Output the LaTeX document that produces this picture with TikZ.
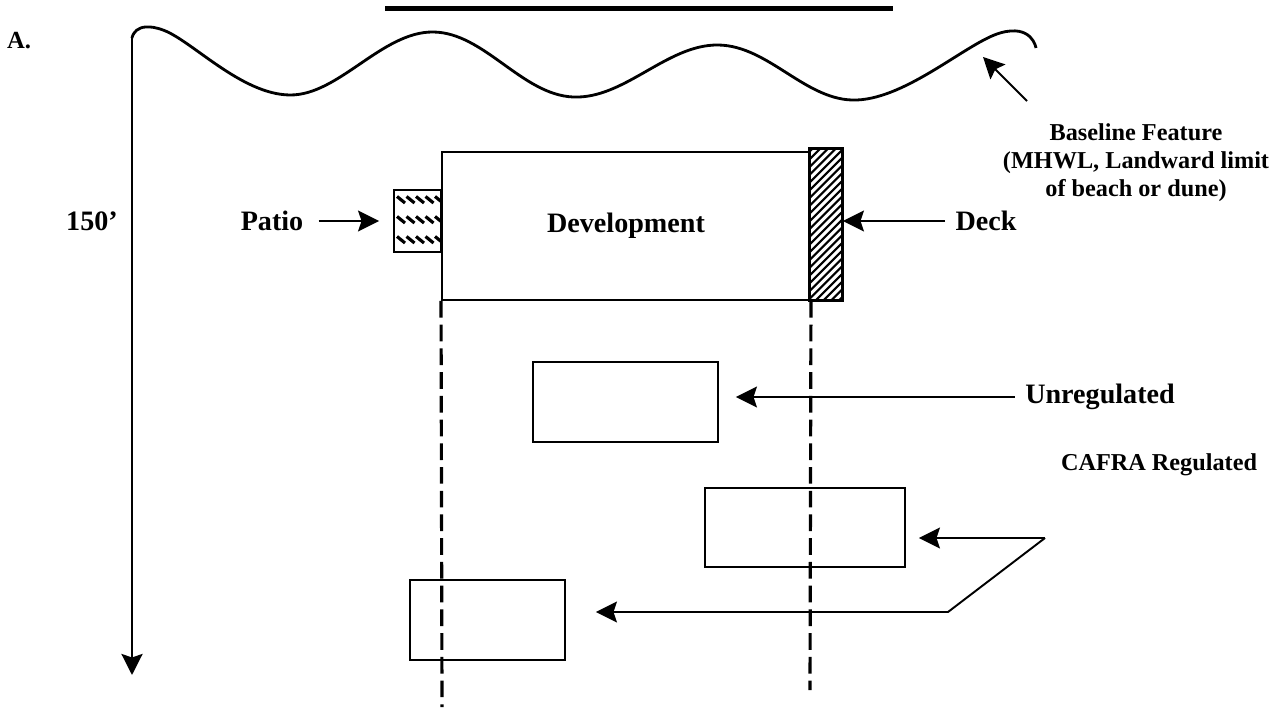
\documentclass[tikz,border=0pt]{standalone}
\usepackage{fontspec}
\setmainfont{Liberation Serif}
\usetikzlibrary{arrows.meta}
\tikzset{
    setback diagram/.style = {>={Stealth[length=4.2mm, width=4.2mm, inset=0.7mm]}},
    line/.style   = {line width=1.1pt},
    heavy/.style  = {line width=1.6pt},
    lot/.style    = {draw, line width=1.1pt, inner sep=0pt},
    limit/.style  = {line width=1.8pt, dash pattern=on 9.5pt off 4pt},
    lbl/.style    = {font=\bfseries\fontsize{16}{19}\selectfont, inner sep=0.3cm},
    note/.style   = {font=\bfseries\fontsize{13.8}{16}\selectfont, align=center,
                     inner sep=0.2cm}
}

\begin{document}
\begin{tikzpicture}[setback diagram]
\useasboundingbox (0,0) rectangle (25.64,14.14);

% ================= Heading =================
\draw[line width=2.6pt] (7.7,13.97) -- (17.86,13.97);
\node[font=\bfseries\fontsize{14}{16}\selectfont, inner sep=0pt] (part) at (0.38,13.32) {A.};

% ================= Shoreline and 150' reach =================
\coordinate (shore) at (2.64,13.38);
\coordinate (depth) at (2.64,0.64);
\draw[heavy] plot[smooth, tension=0.65] coordinates {
    (2.64,13.38) (3.26,13.54) (5.80,12.24) (8.66,13.50) (11.46,12.20)
    (14.36,13.24) (17.14,12.14) (20.00,13.48) (20.72,13.18)};
\draw[heavy, ->] (shore) -- (depth);
\node[lbl] (reach) at (1.84,9.72) {150'};

% ================= Baseline feature =================
\node[note] (baseline) at (22.72,10.88)
    {Baseline Feature\\(MHWL, Landward limit\\of beach or dune)};
\coordinate (mhwl tail) at (20.54,12.12);
\coordinate (mhwl tip) at (19.66,13.00);
\draw[line, ->] (mhwl tail) -- (mhwl tip);

% ================= Development, patio and deck =================
\node[lot, minimum width=7.36cm, minimum height=2.96cm,
      font=\bfseries\fontsize{16}{19}\selectfont] (dev) at (12.52,9.62) {Development};
\node[lot, minimum width=0.94cm, minimum height=1.24cm] (patio) at (8.35,9.72) {};
\node[lot, minimum width=0.64cm, minimum height=3.02cm] (deck) at (16.52,9.65) {};

\begin{scope}
    \clip (patio.south west) rectangle (patio.north east);
    \foreach \r in {10.14,9.74,9.34}
        \foreach \c in {0,...,4}
            \draw[line width=1.8pt] (7.94+\c*0.19,\r+0.07) -- ++(0.16,-0.13);
\end{scope}

\begin{scope}
    \clip (16.20,8.14) rectangle (16.84,11.16);
    \foreach \k in {0,...,25}
        \draw[line width=1.2pt] (16.20,7.40+\k*0.155) -- ++(0.7,0.7);
\end{scope}
\draw[line width=1.1pt] (deck.south west) rectangle (deck.north east);

\node[lbl] (patio lbl) at (5.44,9.72) {Patio};
\node[lbl] (deck lbl) at (19.72,9.72) {Deck};
\draw[line, ->] (patio lbl) -- (patio) [shorten >=0.28cm];
\draw[line, ->] (deck lbl) -- (deck.east |- deck lbl) [shorten <=-0.1cm];

% ================= Setback lines =================
\coordinate (limL) at (8.84,0);
\coordinate (limR) at (16.20,0.34);
\draw[limit] (dev.south west) -- (limL);
\draw[limit] (dev.south east) -- (limR);

% ================= Unregulated =================
\node[lot, minimum width=3.70cm, minimum height=1.60cm] (boxU) at (12.51,6.10) {};
\node[lbl] (unreg) at (22.00,6.20) {Unregulated};
\draw[line, ->] (unreg) -- (boxU.east |- unreg) [shorten >=0.34cm, shorten <=-0.1cm];

% ================= CAFRA regulated =================
\node[lot, minimum width=4.00cm, minimum height=1.58cm] (boxC) at (16.10,3.59) {};
\node[lot, minimum width=3.10cm, minimum height=1.60cm] (boxL) at (9.75,1.74) {};
\node[note] (cafra) at (23.18,4.84) {CAFRA Regulated};
\coordinate (fork) at (20.90,3.38);
\coordinate (bend) at (18.96,1.90);
\draw[line, ->] (fork) -- (boxC.east |- fork) [shorten >=0.26cm];
\draw[line, ->] (fork) -- (bend) -- (boxL.east |- bend) [shorten >=0.60cm];

\end{tikzpicture}
\end{document}
